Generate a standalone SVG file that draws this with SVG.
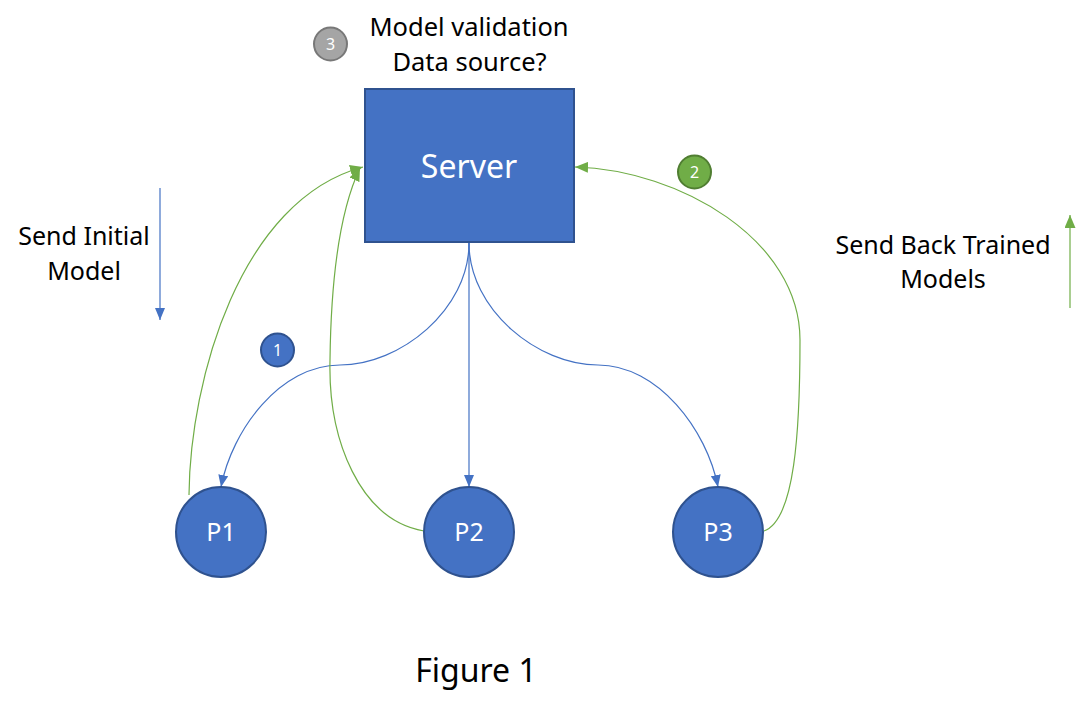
<svg xmlns="http://www.w3.org/2000/svg" width="1084" height="716" viewBox="0 0 1084 716">
  <defs>
    <marker id="ab" markerUnits="userSpaceOnUse" markerWidth="12" markerHeight="10" refX="12" refY="5" orient="auto">
      <path d="M0,0 L12,5 L0,10 z" fill="#4472C4"/>
    </marker>
    <marker id="ag" markerUnits="userSpaceOnUse" markerWidth="13" markerHeight="11" refX="13" refY="5.5" orient="auto">
      <path d="M0,0 L13,5.5 L0,11 z" fill="#70AD47"/>
    </marker>
    <style>
      .lbl { font-family: "Noto Sans", "Open Sans", "Liberation Sans", sans-serif; fill: #000; text-anchor: middle; }
      .wt { font-family: "Noto Sans", "Open Sans", "Liberation Sans", sans-serif; fill: #fff; text-anchor: middle; }
      .node { fill: #4472C4; stroke: #2F528F; stroke-width: 2; }
      .blue { fill: none; stroke: #4472C4; stroke-width: 1.2; }
      .green { fill: none; stroke: #70AD47; stroke-width: 1.2; }
    </style>
  </defs>
  <rect width="1084" height="716" fill="#fff"/>

  <g id="connectors">
    <path class="blue" d="M469,243 L469,487" marker-end="url(#ab)"/>
    <path class="blue" d="M469,243 C469,310 400,365 340,365 C280,365 232,430 221,487" marker-end="url(#ab)"/>
    <path class="blue" d="M469,243 C469,310 538,365 598,365 C658,365 707,430 718,487" marker-end="url(#ab)"/>
    <path class="green" d="M189,495 C190,380 240,200 363,167" marker-end="url(#ag)"/>
    <path class="green" d="M424,531 C360,520 328,440 330,360 C331,280 340,210 360,168" marker-end="url(#ag)"/>
    <path class="green" d="M764,531 C795,520 800,430 800,340 C800,240 680,170 575,167" marker-end="url(#ag)"/>
    <path class="blue" d="M160,188 L160,320" marker-end="url(#ab)"/>
    <path class="green" d="M1070,308 L1070,215" marker-end="url(#ag)"/>
  </g>

  <g id="server">
    <rect class="node" x="365" y="89" width="209" height="153"/>
    <text class="wt" x="469" y="178" font-size="32">Server</text>
  </g>
  <g id="p1">
    <circle class="node" cx="221" cy="532" r="45"/>
    <text class="wt" x="221" y="541" font-size="25">P1</text>
  </g>
  <g id="p2">
    <circle class="node" cx="469" cy="532" r="45"/>
    <text class="wt" x="469" y="541" font-size="25">P2</text>
  </g>
  <g id="p3">
    <circle class="node" cx="718" cy="532" r="45"/>
    <text class="wt" x="718" y="541" font-size="25">P3</text>
  </g>

  <g id="badge1">
    <circle cx="277.5" cy="350" r="16.5" fill="#4472C4" stroke="#2F528F" stroke-width="2"/>
    <text class="wt" x="277.5" y="356" font-size="16">1</text>
  </g>
  <g id="badge2">
    <circle cx="694.5" cy="172" r="16.5" fill="#70AD47" stroke="#507E32" stroke-width="2"/>
    <text class="wt" x="694.5" y="178" font-size="16">2</text>
  </g>
  <g id="badge3">
    <circle cx="330.5" cy="44" r="16.5" fill="#A5A5A5" stroke="#787878" stroke-width="2"/>
    <text class="wt" x="330.5" y="50" font-size="16">3</text>
  </g>

  <g id="labels">
    <text class="lbl" x="469" y="36" font-size="25.5">Model validation</text>
    <text class="lbl" x="469.5" y="71" font-size="25.5">Data source?</text>
    <text class="lbl" x="84" y="245" font-size="25">Send Initial</text>
    <text class="lbl" x="84" y="280" font-size="25">Model</text>
    <text class="lbl" x="943" y="254" font-size="25">Send Back Trained</text>
    <text class="lbl" x="943" y="288" font-size="25">Models</text>
    <text class="lbl" x="476" y="682" font-size="32">Figure 1</text>
  </g>
</svg>
